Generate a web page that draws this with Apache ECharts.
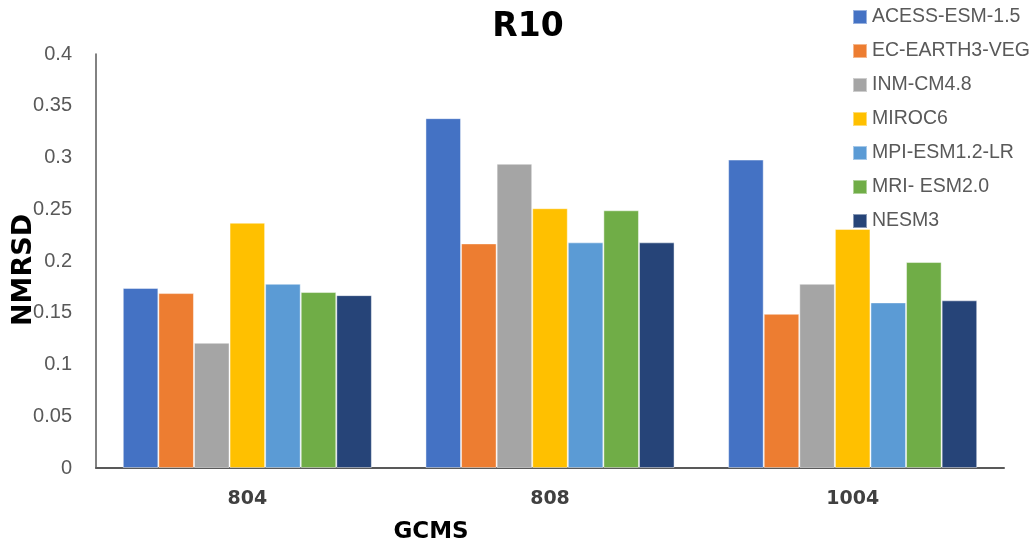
<!DOCTYPE html>
<html>
<head>
<meta charset="utf-8">
<script src="https://cdn.jsdelivr.net/npm/echarts@6/dist/echarts.min.js"></script>
<style>
  html, body { margin: 0; padding: 0; background: #fff; }
  #chart { width: 1032px; height: 546px; }
</style>
</head>
<body>
<div id="chart"></div>
<script>
// Categories along the x axis
const categories = ['804', '808', '1004'];

// NMRSD per model, one value per category
const acessEsm15   = [0.174, 0.338, 0.298];
const ecEarth3Veg  = [0.169, 0.217, 0.149];
const inmCm48      = [0.121, 0.294, 0.178];
const miroc6       = [0.237, 0.251, 0.231];
const mpiEsm12Lr   = [0.178, 0.218, 0.160];
const mriEsm20     = [0.170, 0.249, 0.199];
const nesm3        = [0.167, 0.218, 0.162];

const seriesNames = ['ACESS-ESM-1.5', 'EC-EARTH3-VEG', 'INM-CM4.8', 'MIROC6', 'MPI-ESM1.2-LR', 'MRI- ESM2.0', 'NESM3'];
const seriesValues = [acessEsm15, ecEarth3Veg, inmCm48, miroc6, mpiEsm12Lr, mriEsm20, nesm3];
const colors = ['#4472C4', '#ED7D31', '#A5A5A5', '#FFC000', '#5B9BD5', '#70AD47', '#264478'];

// Y axis tick range
const yMin = 0, yMax = 0.4, yStep = 0.05;

const chart = echarts.init(document.getElementById('chart'), null, { renderer: 'canvas' });

const series = seriesNames.map((name, i) => ({
  name,
  type: 'bar',
  data: seriesValues[i],
  barGap: '0%',
  barCategoryGap: '17.7%',
  itemStyle: {
    color: colors[i],
    borderColor: 'rgba(255,255,255,0.45)',
    borderWidth: 1
  }
}));

chart.setOption({
  animation: false,
  color: colors,
  title: {
    text: 'R10',
    left: 528,
    top: 11,
    padding: 0,
    textAlign: 'center',
    textStyle: { fontFamily: 'DejaVu Sans', fontWeight: 'bold', fontSize: 33, color: '#000' }
  },
  legend: {
    orient: 'vertical',
    left: 852,
    top: 7,
    padding: 0,
    itemWidth: 14,
    itemHeight: 14,
    itemGap: 14,
    icon: 'rect',
    textStyle: { fontFamily: 'Liberation Sans', fontSize: 19.5, color: '#595959' },
    data: seriesNames
  },
  grid: { left: 96, right: 28, top: 54, bottom: 78, containLabel: false, outerBoundsMode: 'none' },
  xAxis: {
    type: 'category',
    data: categories,
    name: 'GCMS',
    nameLocation: 'middle',
    nameGap: 53,
    nameMoveOverlap: false,
    nameTextStyle: { fontFamily: 'DejaVu Sans', fontWeight: 'bold', fontSize: 23, color: '#000', padding: [0, 238, 0, 0] },
    axisLine: { lineStyle: { color: '#595959', width: 2 } },
    axisTick: { show: false },
    axisLabel: { margin: 22, fontFamily: 'DejaVu Sans', fontWeight: 'bold', fontSize: 19, color: '#404040' }
  },
  yAxis: {
    type: 'value',
    min: yMin,
    max: yMax,
    interval: yStep,
    name: 'NMRSD',
    nameLocation: 'middle',
    nameGap: 59,
    nameMoveOverlap: false,
    nameTextStyle: { fontFamily: 'DejaVu Sans', fontWeight: 'bold', fontSize: 27, color: '#000', padding: [0, 18, 0, 0] },
    axisLine: { show: true, lineStyle: { color: '#595959', width: 1.5 } },
    axisTick: { show: false },
    splitLine: { show: false },
    axisLabel: {
      margin: 24,
      fontFamily: 'Liberation Sans',
      fontSize: 20,
      color: '#595959',
      formatter: v => String(parseFloat(v.toFixed(2)))
    }
  },
  series
});
</script>
</body>
</html>
